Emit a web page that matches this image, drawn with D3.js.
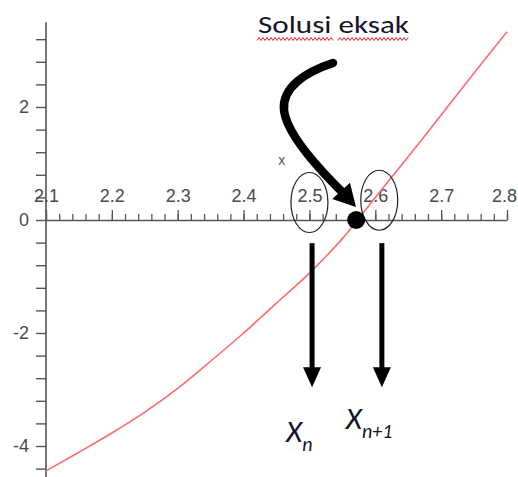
<!DOCTYPE html>
<html>
<head>
<meta charset="utf-8">
<script src="https://cdn.jsdelivr.net/npm/d3@7"></script>
<style>
  html, body { margin: 0; padding: 0; background: #fff; }
  svg { display: block; }
  .axis text { font-family: "Liberation Sans", Arial, sans-serif; fill: #4a4a4a; }
  .axis line, .axis path { stroke: #555; }
</style>
</head>
<body>
<div id="chart"></div>
<script>
// curve values
const xs = [2.1, 2.15, 2.2, 2.25, 2.3, 2.35, 2.4, 2.45, 2.5, 2.55, 2.6, 2.65, 2.7, 2.75, 2.8];
const ys = [-4.44, -4.11, -3.77, -3.40, -2.98, -2.50, -2.00, -1.47, -0.94, -0.33, 0.40, 1.12, 1.86, 2.60, 3.33];

const xTickLabels = ["2.1", "2.2", "2.3", "2.4", "2.5", "2.6", "2.7", "2.8"];
const yTickLabels = ["-4", "-2", "0", "2"];

// annotation anchors (data units)
const root = [2.571, 0];
const xn = [2.504, 2.610];          // x_n, x_n+1 arrows
const circles = [[2.5, 0.31], [2.606, 0.35]];
// big curved arrow, data units: start, c1, c2, mid, c1, c2, end
const bigArrow = [[2.5358, 2.78], [2.4933, 2.62], [2.4583, 2.34], [2.4614, 1.95],
                  [2.4644, 1.59], [2.5009, 1.06], [2.5494, 0.50]];
const bigTip = [2.5707, 0.23];

const W = 518, H = 477;
const svg = d3.select("#chart").append("svg").attr("width", W).attr("height", H);

const x = d3.scaleLinear().domain([2.1, 2.8]).range([46, 507]);
const y = d3.scaleLinear().domain([-4, 2]).range([446, 107]);

// --- y axis
const yMinor = d3.range(-11, 9).map((i) => +(i * 0.4).toFixed(1));
const gy = svg.append("g").attr("class", "axis").attr("transform", `translate(${x(2.1)},0)`);
gy.call(d3.axisLeft(y).tickValues(yMinor).tickSize(10).tickPadding(7)
  .tickFormat((d) => (yTickLabels.includes(String(d)) ? String(d) : "")));
gy.select(".domain").remove();
gy.selectAll("line").attr("stroke-width", 1.4);
gy.selectAll("text").attr("font-size", 18);
svg.append("line").attr("x1", x(2.1)).attr("x2", x(2.1))
  .attr("y1", y(3.5)).attr("y2", H).attr("stroke", "#555").attr("stroke-width", 1.6);

// --- x axis
const xMinor = d3.range(0, 36).map((i) => +(2.1 + i * 0.02).toFixed(2));
const gxm = svg.append("g").attr("class", "axis").attr("transform", `translate(0,${y(0)})`);
gxm.call(d3.axisTop(x).tickValues(xMinor).tickSize(6).tickSizeOuter(0).tickFormat(""));
gxm.selectAll("line").attr("stroke-width", 1.3);
gxm.select(".domain").attr("stroke-width", 1.6);
const gx = svg.append("g").attr("class", "axis").attr("transform", `translate(0,${y(0)})`);
gx.call(d3.axisTop(x).tickValues(xTickLabels.map(Number)).tickSize(10).tickPadding(8)
  .tickFormat((d, i) => xTickLabels[i]));
gx.select(".domain").remove();
gx.selectAll("line").attr("stroke-width", 1.3);
gx.selectAll("text").attr("font-size", 18);
// keep the last label inside the window
gx.selectAll("text").filter((d, i, n) => i === n.length - 1).attr("dx", -3);

svg.append("text").attr("x", x(2.4578)).attr("y", y(0.98))
  .attr("text-anchor", "middle").attr("font-family", "Liberation Sans, Arial, sans-serif")
  .attr("font-size", 14).attr("fill", "#555").text("x");

// --- curve
svg.append("path")
  .attr("d", d3.line().x((d, i) => x(xs[i])).y((d) => y(d)).curve(d3.curveMonotoneX)(ys))
  .attr("fill", "none").attr("stroke", "#ff6b6b").attr("stroke-width", 1.6);

// --- circles around 2.5 and 2.6
svg.selectAll("ellipse.c").data(circles).join("ellipse")
  .attr("cx", (d) => x(d[0])).attr("cy", (d) => y(d[1]))
  .attr("rx", 18.5).attr("ry", 30)
  .attr("fill", "none").attr("stroke", "#222").attr("stroke-width", 1.2);

// --- exact root dot
svg.append("circle").attr("cx", x(root[0])).attr("cy", y(root[1])).attr("r", 9).attr("fill", "#000");

// --- big curved arrow
const p = bigArrow.map((d) => [x(d[0]), y(d[1])]);
const path = d3.path();
path.moveTo(...p[0]);
path.bezierCurveTo(...p[1], ...p[2], ...p[3]);
path.bezierCurveTo(...p[4], ...p[5], ...p[6]);
svg.append("path").attr("d", path.toString()).attr("fill", "none")
  .attr("stroke", "#000").attr("stroke-width", 8.5).attr("stroke-linecap", "round");
{
  const tip = [x(bigTip[0]), y(bigTip[1])];
  const e = p[6];
  const dx = tip[0] - e[0], dy = tip[1] - e[1], L = Math.hypot(dx, dy);
  const ux = dx / L, uy = dy / L, hw = 12;
  const b = [tip[0] - ux * 22, tip[1] - uy * 22];
  svg.append("path").attr("fill", "#000")
    .attr("d", `M${tip[0]},${tip[1]}L${b[0] - uy * hw},${b[1] + ux * hw}L${b[0] + uy * hw},${b[1] - ux * hw}Z`);
}

// --- down arrows to X_n, X_n+1
xn.forEach((v) => {
  const cx = x(v), y0 = y(-0.41), y1 = y(-2.96);
  svg.append("line").attr("x1", cx).attr("x2", cx).attr("y1", y0).attr("y2", y1 - 18)
    .attr("stroke", "#000").attr("stroke-width", 5);
  svg.append("path").attr("fill", "#000")
    .attr("d", `M${cx - 9},${y1 - 20}L${cx + 9},${y1 - 20}L${cx},${y1}Z`);
});

const tf = "Carlito, Lato, 'Open Sans', sans-serif";
const lab = (px, py, main, sub) => {
  const t = svg.append("text").attr("x", px).attr("y", py)
    .attr("font-family", tf).attr("font-style", "italic").attr("fill", "#15152a");
  t.append("tspan").attr("font-size", 31).text(main);
  t.append("tspan").attr("font-size", 20).attr("dy", 9).text(sub);
};
lab(x(xn[0]) - 26, y(-3.93), "X", "n");
lab(x(xn[1]) - 36, y(-3.7), "X", "n+1");

// --- "Solusi eksak" with spell-check underline
svg.append("text").attr("x", 258).attr("y", 33)
  .attr("font-family", tf).attr("font-size", 24).attr("fill", "#15152a")
  .attr("textLength", 151).attr("lengthAdjust", "spacingAndGlyphs").text("Solusi eksak");
const wavy = (a, b) => {
  const pts = d3.range(a, b + 0.1, 2).map((v, i) => [v, i % 2 ? 37.5 : 40.5]);
  svg.append("path").attr("d", d3.line()(pts)).attr("fill", "none")
    .attr("stroke", "#e02020").attr("stroke-width", 1);
};
wavy(257, 333);
wavy(338, 409);
</script>
</body>
</html>
